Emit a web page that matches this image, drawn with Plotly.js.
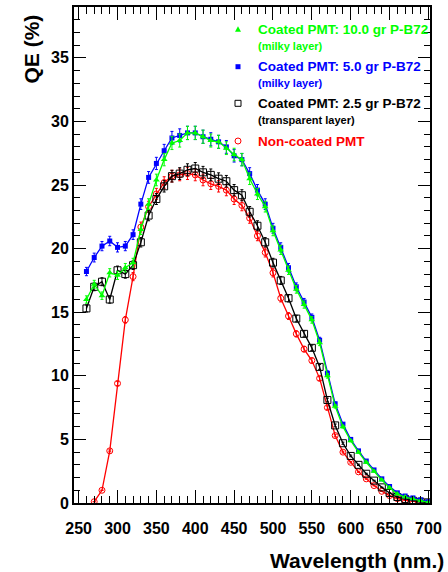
<!DOCTYPE html>
<html><head><meta charset="utf-8">
<script src="https://cdn.plot.ly/plotly-3.0.1.min.js"></script>
<style>html,body{margin:0;padding:0;background:#fff}</style>
</head><body><div id="chart" style="width:448px;height:572px"></div>
<script>
const wavelength = [260,270,280,290,300,310,320,330,340,350,360,370,380,390,400,410,420,430,440,450,460,470,480,490,500,510,520,530,540,550,560,570,580,590,600,610,620,630,640,650,660,670,680,690,700];
const wavelengthNonCoated = [270,280,290,300,310,320,330,340,350,360,370,380,390,400,410,420,430,440,450,460,470,480,490,500,510,520,530,540,550,560,570,580,590,600,610,620,630,640,650,660,670,680,690,700];
const qe10gr = [16.0,17.2,16.3,18.1,17.9,18.5,18.9,21.5,23.5,25.4,27.0,28.3,28.5,29.1,29.1,28.8,28.5,28.4,27.9,27.4,27.0,25.5,24.3,23.3,21.4,19.9,18.3,16.8,15.6,14.4,12.6,10.0,7.6,6.0,4.9,4.0,3.2,2.5,1.8,1.2,0.7,0.47,0.34,0.18,0.05];
const qe5gr = [18.2,19.3,20.2,20.6,20.1,20.2,21.1,23.5,25.6,26.7,27.7,28.7,28.9,29.1,29.1,28.8,28.6,28.4,28.0,27.3,27.0,25.9,24.6,23.5,21.6,20.1,18.5,17.0,15.8,14.6,12.8,10.2,7.8,6.2,5.0,4.1,3.3,2.6,1.9,1.3,0.8,0.55,0.4,0.25,0.1];
const qe2p5gr = [15.3,17.0,17.4,16.0,18.3,18.0,18.7,20.5,22.6,23.9,24.9,25.7,25.9,26.2,26.3,26.0,25.8,25.5,25.3,24.6,24.2,22.9,21.8,20.5,18.9,17.5,16.1,14.5,13.3,12.2,10.7,8.1,6.1,4.7,3.7,3.0,2.3,1.76,1.23,0.79,0.47,0.32,0.18,0.1,0.05];
const qeNonCoated = [0.1,1.0,4.1,9.4,14.4,17.8,21.7,23.3,24.3,25.2,25.7,25.8,25.9,25.8,25.4,25.1,24.9,24.6,23.9,23.4,22.4,21.0,19.7,18.1,16.1,14.7,13.3,12.1,11.2,9.8,7.5,5.3,4.0,3.2,2.45,1.9,1.37,0.92,0.58,0.34,0.2,0.12,0.07,0.03];
const xTickVals = [250,300,350,400,450,500,550,600,650,700];
const yTickVals = [0,5,10,15,20,25,30,35];
const legendTitles = ["Coated PMT: 10.0 gr P-B72","Coated PMT: 5.0 gr P-B72","Coated PMT: 2.5 gr P-B72","Non-coated PMT"];
const legendSubtitles = ["(milky layer)","(milky layer)","(transparent layer)",""];
const xTitle = "Wavelength (nm.)";
const yTitle = "QE (%)";

const FONT = "Liberation Sans, Arial, Helvetica, sans-serif";
const W = 448, H = 572;
const M = {l:74, r:18, t:7, b:69};
const pw = W - M.l - M.r, ph = H - M.t - M.b;
const px2x = p => (p - M.l) / pw;
const px2y = p => (H - M.b - p) / ph;

const colors = ["#00ff00","#0000ff","#000000","#ff0000"];

function trace(x, y, color, symbol, size, lw) {
  return {
    x: x, y: y, type: 'scatter', mode: 'lines+markers', showlegend: false,
    line: {color: color, width: 1.3},
    marker: {symbol: symbol, size: size, color: color, line: {color: color, width: lw}},
    error_y: {type: 'percent', value: 1.8, color: color, thickness: 1, width: 1.5},
    hoverinfo: 'skip'
  };
}

const data = [
  trace(wavelengthNonCoated, qeNonCoated, colors[3], 'circle-open', 6, 1),
  trace(wavelength, qe2p5gr, colors[2], 'square-open', 7, 1),
  trace(wavelength, qe5gr, colors[1], 'square', 5, 0),
  trace(wavelength, qe10gr, colors[0], 'triangle-up', 6, 0)
];

const titleY = [29.3, 66.7, 103.3, 141];
const subY = [46, 82.7, 120, null];
const annotations = [];
legendTitles.forEach((t, i) => {
  annotations.push({xref:'paper', yref:'paper', x: px2x(256), y: px2y(titleY[i]), xanchor:'left', yanchor:'middle',
    text: t, showarrow:false, font:{family:FONT, size:13.5, weight:'bold', color: colors[i]}});
  if (legendSubtitles[i]) {
    annotations.push({xref:'paper', yref:'paper', x: px2x(256), y: px2y(subY[i]), xanchor:'left', yanchor:'middle',
      text: legendSubtitles[i], showarrow:false, font:{family:FONT, size:11, weight:'bold', color: colors[i]}});
  }
});
annotations.push({xref:'paper', yref:'paper', x: px2x(446), y: px2y(560), xanchor:'right', yanchor:'middle',
  text: xTitle, showarrow:false, font:{family:FONT, size:21, weight:'bold', color:'#000'}});
annotations.push({xref:'paper', yref:'paper', x: px2x(31), y: px2y(13), xanchor:'center', yanchor:'top', textangle:-90,
  text: yTitle, showarrow:false, font:{family:FONT, size:21, weight:'bold', color:'#000'}});

// legend symbols as shapes
const mx = 238;
const shapes = [];
function tri(cx, cy, s, color) {
  const p = `M ${px2x(cx - s)} ${px2y(cy + s*0.85)} L ${px2x(cx + s)} ${px2y(cy + s*0.85)} L ${px2x(cx)} ${px2y(cy - s)} Z`;
  return {type:'path', xref:'paper', yref:'paper', path:p, fillcolor:color, line:{color:color, width:0}};
}
shapes.push(tri(mx, titleY[0], 3, colors[0]));
shapes.push({type:'rect', xref:'paper', yref:'paper', x0:px2x(mx-2.5), x1:px2x(mx+2.5), y0:px2y(titleY[1]+2.5), y1:px2y(titleY[1]-2.5), fillcolor:colors[1], line:{color:colors[1], width:0}});
shapes.push({type:'rect', xref:'paper', yref:'paper', x0:px2x(mx-3), x1:px2x(mx+3), y0:px2y(titleY[2]+3), y1:px2y(titleY[2]-3), fillcolor:'rgba(0,0,0,0)', line:{color:colors[2], width:1}});
shapes.push({type:'circle', xref:'paper', yref:'paper', x0:px2x(mx-3), x1:px2x(mx+3), y0:px2y(titleY[3]+3), y1:px2y(titleY[3]-3), fillcolor:'rgba(0,0,0,0)', line:{color:colors[3], width:1}});

const axisCommon = {
  ticks:'inside', tickcolor:'#000', tickwidth:1, showline:true, linecolor:'#000', linewidth:2,
  mirror:'allticks', showgrid:false, zeroline:false, fixedrange:true,
  tickfont:{family:FONT, size:16, weight:'bold', color:'#000'}
};

const layout = {
  width: W, height: H,
  margin: {l:M.l, r:M.r, t:M.t, b:M.b, pad:0},
  paper_bgcolor:'#fff', plot_bgcolor:'#fff',
  showlegend:false,
  xaxis: Object.assign({}, axisCommon, {
    range:[244, 702], tickmode:'array', tickvals:xTickVals, ticktext:xTickVals.map(String), ticklen:13,
    ticklabelstandoff: 10,
    minor:{dtick:10, tick0:250, ticks:'inside', ticklen:7, tickcolor:'#000', tickwidth:1, showgrid:false}
  }),
  yaxis: Object.assign({}, axisCommon, {
    range:[0, 39], tickmode:'array', tickvals:yTickVals, ticktext:yTickVals.map(String), ticklen:12,
    minor:{dtick:1, tick0:0, ticks:'inside', ticklen:6, tickcolor:'#000', tickwidth:1, showgrid:false}
  }),
  annotations: annotations,
  shapes: shapes
};

Plotly.newPlot('chart', data, layout, {staticPlot:true, displayModeBar:false});
</script>
</body></html>
